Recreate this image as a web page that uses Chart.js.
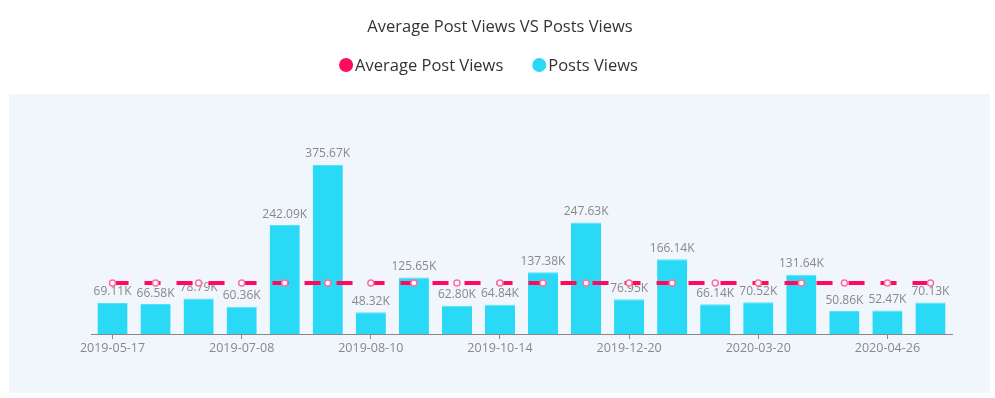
<!DOCTYPE html>
<html>
<head>
<meta charset="utf-8">
<script src="https://cdn.jsdelivr.net/npm/chart.js@4/dist/chart.umd.min.js"></script>
<style>
  html, body { margin: 0; padding: 0; background: #ffffff; }
  #wrap { width: 995px; height: 398px; position: relative; }
</style>
</head>
<body>
<div id="wrap"><canvas id="c" width="995" height="398"></canvas></div>
<script>
// ---- data ----
const categories = [
  '2019-05-17', '2019-06-04', '2019-06-21', '2019-07-08', '2019-07-19',
  '2019-07-30', '2019-08-10', '2019-09-01', '2019-09-22', '2019-10-14',
  '2019-11-05', '2019-11-27', '2019-12-20', '2020-01-18', '2020-02-18',
  '2020-03-20', '2020-04-01', '2020-04-14', '2020-04-26', '2020-05-08'
];
const postsViews = [
  69110, 66580, 78790, 60360, 242090,
  375670, 48320, 125650, 62800, 64840,
  137380, 247630, 76950, 166140, 66140,
  70520, 131640, 50860, 52470, 70130
];
const averagePostViews = [
  113200, 113200, 113200, 113200, 113200,
  113200, 113200, 113200, 113200, 113200,
  113200, 113200, 113200, 113200, 113200,
  113200, 113200, 113200, 113200, 113200
];
const seriesNames = ['Average Post Views', 'Posts Views'];
const chartTitle = 'Average Post Views VS Posts Views';

// ---- styles ----
const PINK = '#FF0A5E';
const CYAN = '#2AD9F5';
const SERIES_COLORS = [PINK, CYAN];
const FONT = '"Open Sans", Lato, sans-serif';
const HEAD_SIZE = 16.5;

const panelPlugin = {
  id: 'panel',
  beforeDraw(chart) {
    const ctx = chart.ctx;
    ctx.save();
    ctx.fillStyle = '#F1F5FC';
    ctx.fillRect(9, 94, 981, 299);
    ctx.restore();
  }
};

// legend drawn with tight marker/text spacing
const legendPlugin = {
  id: 'customLegend',
  afterDraw(chart) {
    const ctx = chart.ctx;
    const d = 14, gapText = 2, gapItem = 29;
    ctx.save();
    ctx.font = HEAD_SIZE + 'px ' + FONT;
    const items = chart.data.datasets.map((ds, i) => ({
      text: ds.label, color: SERIES_COLORS[i], w: ctx.measureText(ds.label).width
    }));
    let total = 0;
    items.forEach((it, i) => { total += d + gapText + it.w + (i ? gapItem : 0); });
    let x = (chart.width - total) / 2 - 9;
    const y = 65;
    ctx.textBaseline = 'middle';
    ctx.textAlign = 'left';
    items.forEach((it) => {
      ctx.fillStyle = it.color;
      ctx.beginPath();
      ctx.arc(x + d / 2, y, d / 2, 0, Math.PI * 2);
      ctx.fill();
      ctx.fillStyle = '#333333';
      ctx.fillText(it.text, x + d + gapText, y + 1);
      x += d + gapText + it.w + gapItem;
    });
    ctx.restore();
  }
};

const barLabels = {
  id: 'barLabels',
  afterDatasetDraw(chart, args) {
    if (args.index !== 1) return;
    const ctx = chart.ctx;
    const ds = chart.data.datasets[1];
    ctx.save();
    ctx.font = '12px ' + FONT;
    ctx.fillStyle = '#888888';
    ctx.textAlign = 'center';
    ctx.textBaseline = 'alphabetic';
    args.meta.data.forEach((el, i) => {
      const v = ds.data[i];
      ctx.fillText((v / 1000).toFixed(2) + 'K', el.x, el.y - 7.5);
    });
    ctx.restore();
  }
};

new Chart(document.getElementById('c'), {
  data: {
    labels: categories,
    datasets: [
      {
        type: 'line',
        label: seriesNames[0],
        data: averagePostViews,
        borderColor: PINK,
        borderWidth: 4,
        borderDash: [16, 16],
        pointRadius: 3,
        pointBorderWidth: 1.5,
        pointBackgroundColor: '#ffffff',
        pointBorderColor: '#FF6F9C',
        fill: false,
        tension: 0
      },
      {
        type: 'bar',
        label: seriesNames[1],
        data: postsViews,
        backgroundColor: CYAN,
        borderColor: '#52E2F8',
        borderWidth: { top: 1, left: 0, right: 0, bottom: 0 },
        borderSkipped: 'bottom',
        categoryPercentage: 0.7,
        barPercentage: 1.0
      }
    ]
  },
  options: {
    responsive: false,
    animation: false,
    events: [],
    layout: { padding: { left: 48, right: 43, top: 0, bottom: 40 } },
    plugins: {
      title: {
        display: true,
        text: chartTitle,
        color: '#333333',
        font: { family: FONT, size: HEAD_SIZE, weight: 'normal' },
        padding: { top: 17, bottom: 117.2 }
      },
      legend: { display: false },
      tooltip: { enabled: false }
    },
    scales: {
      x: {
        offset: true,
        grid: { display: true, offset: false, drawOnChartArea: false, drawTicks: true, tickLength: 5, color: '#888888' },
        border: { display: true, color: '#888888', width: 1 },
        ticks: {
          autoSkip: false,
          maxRotation: 0,
          color: '#888888',
          padding: 2,
          font: { family: FONT, size: 12.5 },
          callback(v, i) { return i % 3 === 0 ? categories[i] : null; }
        }
      },
      y: {
        display: true,
        min: 0,
        max: 400000,
        ticks: { display: false },
        grid: { display: false },
        border: { display: false },
        afterFit(scale) { scale.width = 43; }
      }
    }
  },
  plugins: [panelPlugin, barLabels, legendPlugin]
});
</script>
</body>
</html>
